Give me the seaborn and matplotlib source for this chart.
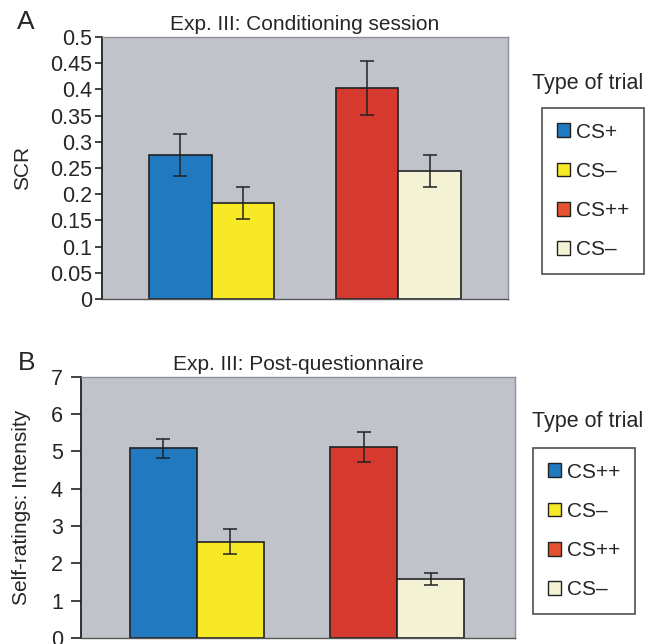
import pandas as pd
import numpy as np
import matplotlib
matplotlib.use("Agg")
import matplotlib.pyplot as plt
from matplotlib.patches import Patch
import seaborn as sns

# data
trial_keys = ["cs_plus", "cs_minus_a", "cs_pp", "cs_minus_b"]
order = ["cs_plus", "cs_minus_a", "gap", "cs_pp", "cs_minus_b"]
colors = {"cs_plus": "#2179c0", "cs_minus_a": "#f7e925",
          "cs_pp": "#d6392e", "cs_minus_b": "#f3f2d5"}
legend_colors = ["#2179c0", "#f7e925", "#e5532e", "#f3f2d5"]

scr_mean = [0.275, 0.183, 0.403, 0.244]
scr_err = [0.040, 0.031, 0.052, 0.030]
rating_mean = [5.08, 2.58, 5.12, 1.57]
rating_err = [0.25, 0.34, 0.41, 0.16]

labels_a = ["CS+", "CS\u2013", "CS++", "CS\u2013"]
labels_b = ["CS++", "CS\u2013", "CS++", "CS\u2013"]

sns.set_style("white")
plt.rcParams["font.family"] = ["Liberation Sans", "DejaVu Sans"]

fig = plt.figure(figsize=(6.52, 6.44), dpi=100)
ax_a = fig.add_axes([102/652, 1-299/644, 406/652, 262/644])
ax_b = fig.add_axes([81/652, 1-638/644, 434/652, 261.3/644])


def draw_panel(ax, means, errs, ylabel, title, yticks, ylim, xlim, ticklabels,
               ticklen, tickpad, labelpad):
    df = pd.DataFrame({"trial": trial_keys, "value": means})
    sns.barplot(data=df, x="trial", y="value", hue="trial", order=order,
                hue_order=trial_keys, palette=colors, width=1.0, dodge=False,
                saturation=1, edgecolor="#222222", linewidth=1.2, legend=False, ax=ax)
    # error bars at bar centres from the drawn patches
    for key, m, e in zip(trial_keys, means, errs):
        pos = order.index(key)
        for p in ax.patches:
            if abs(p.get_x() + p.get_width() / 2 - pos) < 1e-6 and p.get_height() > 0:
                ax.errorbar(pos, m, yerr=e, color="#222222", lw=1.1,
                            capsize=5, capthick=1.1, zorder=5)
                break
    ax.set_facecolor("#c0c3ca")
    ax.set_xlim(*xlim)
    ax.set_ylim(*ylim)
    ax.set_yticks(yticks)
    ax.set_yticklabels(ticklabels)
    ax.set_xticks([])
    ax.set_xlabel("")
    ax.set_ylabel(ylabel, fontsize=15, labelpad=labelpad)
    ax.set_title(title, fontsize=15, pad=5)
    for s in ["top", "right"]:
        ax.spines[s].set_color("#8e9196")
        ax.spines[s].set_linewidth(1.0)
    ax.spines["left"].set_color("#222222")
    ax.spines["left"].set_linewidth(1.3)
    ax.spines["bottom"].set_color("#555555")
    ax.spines["bottom"].set_linewidth(1.0)
    ax.tick_params(axis="y", direction="out", length=ticklen, width=1.2,
                   color="#222222", labelsize=15.5, pad=tickpad, left=True)


draw_panel(ax_a, scr_mean, scr_err, "SCR", "Exp. III: Conditioning session",
           np.arange(0, 0.51, 0.05), (0, 0.5), (-1.26, 5.26),
           ["0", "0.05", "0.1", "0.15", "0.2", "0.25", "0.3", "0.35", "0.4", "0.45", "0.5"],
           5, 2, 13)
draw_panel(ax_b, rating_mean, rating_err, "Self-ratings: Intensity",
           "Exp. III: Post-questionnaire",
           np.arange(0, 8), (0, 7), (-1.23, 5.26),
           [str(i) for i in range(8)], 7, 6, 14)

fig.text(17/652, 1-22/644, "A", fontsize=19, va="center")
fig.text(18/652, 1-363/644, "B", fontsize=19, va="center")


def add_legend(labels, x, y, tx, ty):
    handles = [Patch(facecolor=c, edgecolor="#222222", linewidth=1.0) for c in legend_colors]
    leg = fig.legend(handles, labels, loc="upper left", bbox_to_anchor=(x, y),
                     frameon=True, fancybox=False, fontsize=15,
                     handlelength=0.65, handleheight=0.65, handletextpad=0.3,
                     labelspacing=0.97, borderpad=0.7, borderaxespad=0)
    leg.get_frame().set_edgecolor("#222222")
    leg.get_frame().set_linewidth(1.2)
    fig.text(tx, ty, "Type of trial", fontsize=15.5, va="center")


add_legend(labels_a, 542/652, 1-108/644, 532/652, 1-83/644)
add_legend(labels_b, 533/652, 1-448/644, 532/652, 1-422/644)

fig.savefig("out.png", dpi=100)
